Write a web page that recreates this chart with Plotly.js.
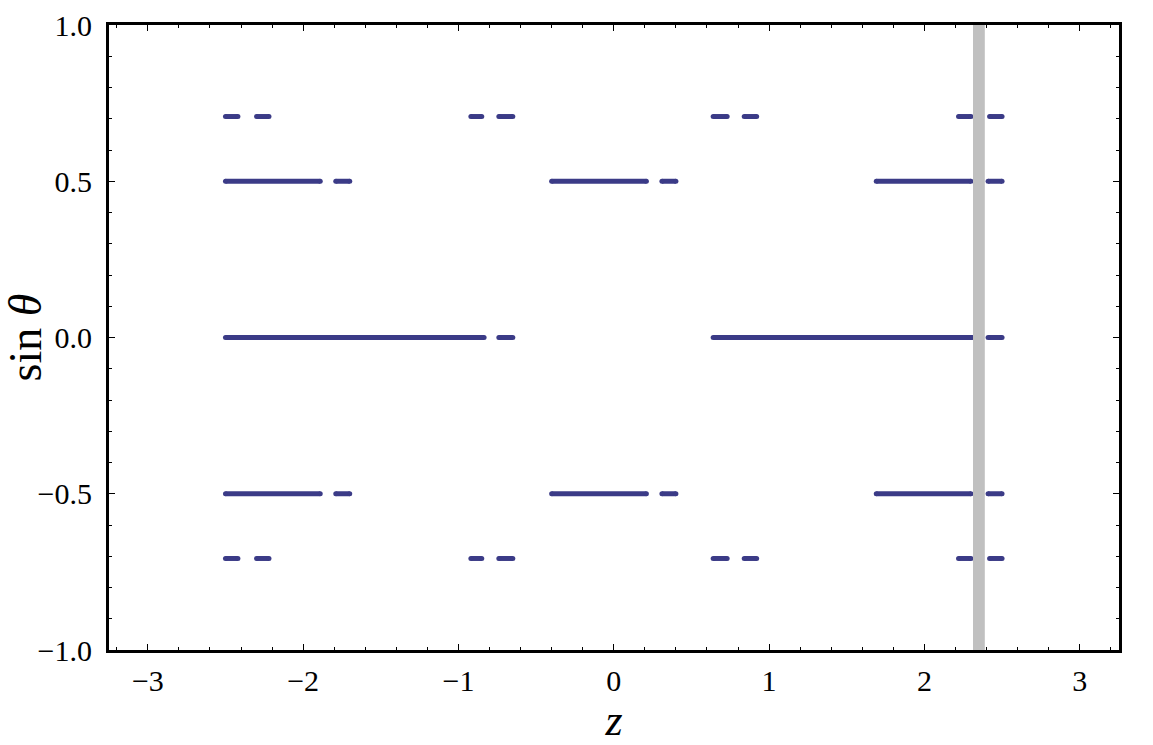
<!DOCTYPE html>
<html>
<head>
<meta charset="utf-8">
<script src="https://cdn.plot.ly/plotly-3.0.1.min.js"></script>
<style>
  html, body { margin: 0; padding: 0; background: #fff; }
  #plot { width: 1153px; height: 745px; }
</style>
</head>
<body>
<div id="plot"></div>
<script>
// sin(theta) levels and the z-intervals where points occur on each level
const levels = [0.7071, 0.5, 0, -0.5, -0.7071];

const segs707 = [[-2.50, -2.42], [-2.30, -2.22], [-0.92, -0.85], [-0.74, -0.65],
                 [0.64, 0.73], [0.84, 0.92], [2.22, 2.30], [2.42, 2.50]];
const segs500 = [[-2.50, -1.89], [-1.79, -1.70], [-0.40, 0.21], [0.31, 0.40],
                 [1.69, 2.30], [2.41, 2.50]];
const segs000 = [[-2.50, -0.835], [-0.74, -0.65], [0.64, 2.31], [2.41, 2.50]];

const levelSegs = [segs707, segs500, segs000, segs500, segs707];

// grey marker band
const bandZ = [2.313, 2.389];

const xTicks = [-3, -2, -1, 0, 1, 2, 3];
const yTicks = [-1, -0.5, 0, 0.5, 1];

const xs = [];
const ys = [];
levels.forEach((lv, i) => {
    levelSegs[i].forEach(s => {
        xs.push(s[0], s[1], null);
        ys.push(lv, lv, null);
    });
});

const ptColor = "#3b3b87";

const trace = {
    type: "scatter",
    mode: "lines+markers",
    x: xs,
    y: ys,
    connectgaps: false,
    line: { color: ptColor, width: 5 },
    marker: { color: ptColor, size: 5 },
    hoverinfo: "skip"
};

const serif = "'Liberation Serif', serif";

const layout = {
    width: 1153,
    height: 745,
    paper_bgcolor: "#fff",
    plot_bgcolor: "#fff",
    showlegend: false,
    margin: { l: 109, r: 34, t: 25, b: 95 },
    font: { family: serif, color: "#000", size: 30 },
    xaxis: {
        range: [-3.25, 3.253],
        tickvals: xTicks,
        ticks: "inside",
        ticklen: 6,
        tickwidth: 1,
        tickcolor: "#000",
        showgrid: false,
        zeroline: false,
        showline: true,
        linewidth: 3,
        linecolor: "#000",
        mirror: "allticks",
        ticklabelstandoff: 2,
        minor: { dtick: 0.2, ticks: "inside", ticklen: 3, tickcolor: "#000", showgrid: false },
        tickfont: { family: serif, size: 30 },
        title: { text: "<i>z</i>", font: { family: serif, size: 44 }, standoff: 4 }
    },
    yaxis: {
        range: [-1, 1],
        tickvals: yTicks,
        tickformat: ".1f",
        ticks: "inside",
        ticklen: 6,
        tickwidth: 1,
        tickcolor: "#000",
        showgrid: false,
        zeroline: false,
        showline: true,
        linewidth: 3,
        linecolor: "#000",
        mirror: "allticks",
        ticklabelstandoff: 8,
        minor: { dtick: 0.1, ticks: "inside", ticklen: 3, tickcolor: "#000", showgrid: false },
        tickfont: { family: serif, size: 30 },
        title: { text: "sin <i>θ</i>", font: { family: serif, size: 46 }, standoff: 8 }
    },
    shapes: [{
        type: "rect",
        xref: "x",
        yref: "paper",
        x0: bandZ[0],
        x1: bandZ[1],
        y0: 0,
        y1: 1,
        fillcolor: "#c0c0c0",
        line: { width: 0 },
        layer: "above"
    }]
};

Plotly.newPlot("plot", [trace], layout, { staticPlot: true });
</script>
</body>
</html>
